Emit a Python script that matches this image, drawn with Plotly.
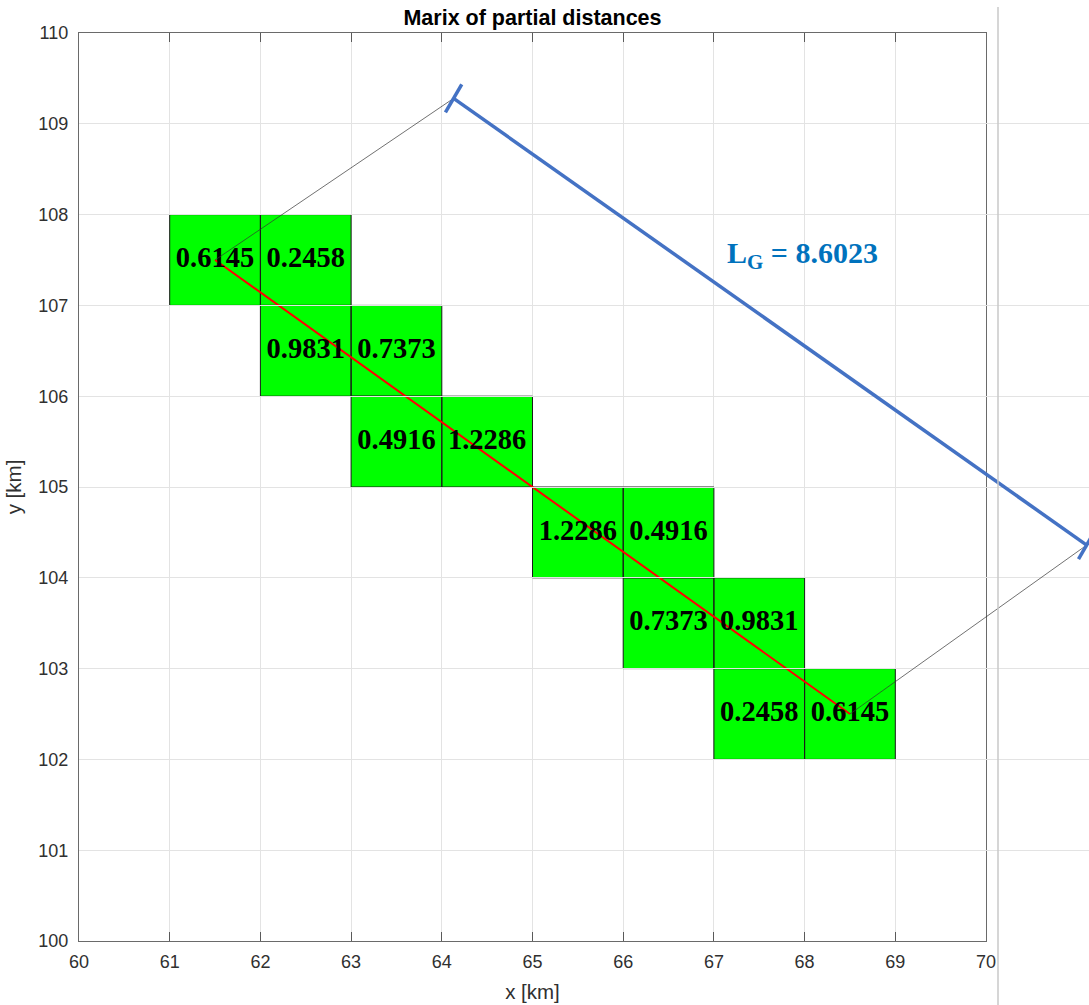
import plotly.graph_objects as go

# ---- data ----
cell_x0 = [61, 62, 62, 63, 63, 64, 65, 66, 66, 67, 67, 68]
cell_y0 = [107, 107, 106, 106, 105, 105, 104, 104, 103, 103, 102, 102]
cell_vals = ["0.6145", "0.2458", "0.9831", "0.7373", "0.4916", "1.2286",
             "1.2286", "0.4916", "0.7373", "0.9831", "0.2458", "0.6145"]
path_x = [61.5, 68.5]
path_y = [107.5, 102.5]
bracket_x = [64.13, 71.11]
bracket_y = [109.28, 104.36]
tick_half = [0.09, 0.155]
total_label = "8.6023"
x_ticks = list(range(60, 71))
y_ticks = list(range(100, 111))

W, H = 1089, 1005
ml, mr, mt, mb = 79, 0, 33, 64
plot_w = W - ml - mr
main_w = 907
dom = main_w / plot_w
x2_end = 60 + 10 / dom

fig = go.Figure()

# green cells
px, py = [], []
for x0, y0 in zip(cell_x0, cell_y0):
    px += [x0, x0 + 1, x0 + 1, x0, x0, None]
    py += [y0, y0, y0 + 1, y0 + 1, y0, None]
fig.add_trace(go.Scatter(x=px, y=py, mode="lines", fill="toself",
                         fillcolor="#00ff00", line=dict(color="#1a1a1a", width=1),
                         hoverinfo="skip", showlegend=False))

# red path
fig.add_trace(go.Scatter(x=path_x, y=path_y, mode="lines",
                         line=dict(color="#ff0000", width=2), showlegend=False))

# cell labels
fig.add_trace(go.Scatter(x=[v + 0.5 for v in cell_x0], y=[v + 0.5 for v in cell_y0],
                         mode="text", text=cell_vals,
                         textfont=dict(family="Liberation Serif", size=28.5, color="black", weight="bold"),
                         textposition="middle center", showlegend=False))

# thin connector lines (on wide overlay axis)
for i in range(2):
    fig.add_trace(go.Scatter(x=[path_x[i], bracket_x[i]], y=[path_y[i], bracket_y[i]],
                             mode="lines", line=dict(color="#333333", width=0.7),
                             xaxis="x2", yaxis="y", showlegend=False))

# blue bracket
fig.add_trace(go.Scatter(x=bracket_x, y=bracket_y, mode="lines",
                         line=dict(color="#4472C4", width=3.5),
                         xaxis="x2", yaxis="y", showlegend=False))
for i in range(2):
    fig.add_trace(go.Scatter(x=[bracket_x[i] - tick_half[0], bracket_x[i] + tick_half[0]],
                             y=[bracket_y[i] - tick_half[1], bracket_y[i] + tick_half[1]],
                             mode="lines", line=dict(color="#4472C4", width=3.5),
                             xaxis="x2", yaxis="y", showlegend=False))

fig.add_annotation(x=67.98, y=107.56, xref="x", yref="y", showarrow=False,
                   text="<b>L<sub>G</sub> = " + total_label + "</b>",
                   font=dict(family="Liberation Serif", size=30, color="#0072BD"))

axis_common = dict(showline=True, linecolor="#6a6a6a", linewidth=1.3, mirror="ticks",
                   ticks="inside", ticklen=9, tickcolor="#5a5a5a", automargin=False,
                   showgrid=True, gridcolor="#e3e3e3", gridwidth=1, zeroline=False,
                   tickfont=dict(family="Liberation Sans", size=18, color="#303030"))

fig.update_layout(
    width=W, height=H,
    margin=dict(l=ml, r=mr, t=mt, b=mb),
    paper_bgcolor="white", plot_bgcolor="rgba(0,0,0,0)",
    title=dict(text="<b>Marix of partial distances</b>", x=dom / 2, xref="paper",
               xanchor="center", y=1 - 17 / H, yanchor="middle",
               font=dict(family="Liberation Sans", size=21.5, color="black")),
    xaxis=dict(domain=[0, dom], range=[60, 70], tickvals=x_ticks, anchor="y",
               ticklabelstandoff=4,
               title=dict(text="x [km]", font=dict(family="Liberation Sans", size=20.5, color="#303030"), standoff=13),
               **axis_common),
    yaxis=dict(domain=[0, 1], range=[100, 110], tickvals=y_ticks, anchor="x",
               ticklabelstandoff=6,
               title=dict(text="y [km]", font=dict(family="Liberation Sans", size=20.5, color="#303030"), standoff=11),
               **axis_common),
    xaxis2=dict(domain=[0, 1], range=[60, x2_end], anchor="y", visible=False,
                showgrid=False, zeroline=False, automargin=False),
    showlegend=False,
)

fig.add_shape(type="line", xref="paper", yref="paper",
              x0=(998 - ml) / plot_w, x1=(998 - ml) / plot_w,
              y0=-(H - 941) / (H - mt - mb), y1=(941 - 7) / (H - mt - mb),
              line=dict(color="#c8c8c8", width=1.5))

fig.write_html("out.html")
